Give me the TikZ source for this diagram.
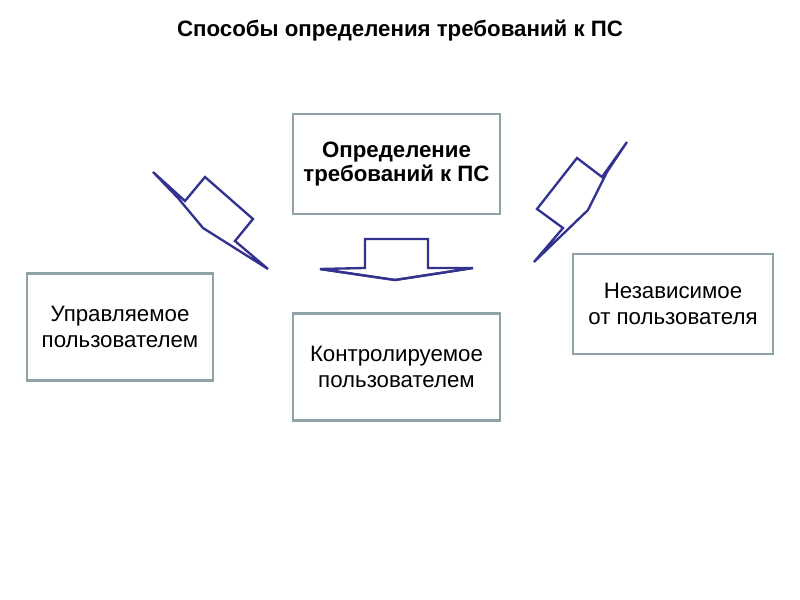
\documentclass[tikz,border=0pt]{standalone}
\usepackage{fontspec}
\setmainfont{Liberation Sans}
\definecolor{BoxGrey}{HTML}{8FA3A7}
\definecolor{ArrowBlue}{HTML}{33338F}
\usetikzlibrary{positioning}
\tikzset{
  waybox/.style={draw=BoxGrey,line width=1.8pt,fill=white,align=center,
    font=\fontsize{19}{21.5}\selectfont,inner sep=2pt},
  blockarrow/.style={draw=ArrowBlue,line width=2pt,line join=miter,fill=white}
}

\begin{document}
\begin{tikzpicture}[x=0.03cm,y=-0.03cm]
  \useasboundingbox (0,0) rectangle (800,600);

  % Title
  \node[font=\fontsize{19}{22}\selectfont\bfseries] (title) at (400,31)
    {Способы определения требований к ПС};

  % Top box
  \node[waybox,minimum width=6.21cm,minimum height=3cm,font=\fontsize{19}{21}\selectfont\bfseries]
    (define) at (396.5,164) {Определение\\требований к ПС};

  % Lower boxes
  \node[waybox,minimum width=5.58cm,minimum height=3.21cm] (managed) at (120,327)
    {Управляемое\\пользователем};
  \node[waybox,minimum width=6.21cm,minimum height=3.21cm] (controlled) at (396.5,367)
    {Контролируемое\\пользователем};
  \node[waybox,minimum width=6cm,minimum height=3cm] (indep) at (673,304)
    {Независимое\\от пользователя};

  % Left arrow
  \draw[blockarrow] (153,172) -- (185,201) -- (205,177) -- (253,219) -- (235,241)
    -- (268,269) -- (203,228) -- (178,198) -- cycle;

  % Down arrow
  \draw[blockarrow] (365,239) -- (428,239) -- (428,268) -- (473,268) -- (395,280)
    -- (320,269) -- (365,268) -- cycle;
  \draw[ArrowBlue,line width=2pt] (320,269) -- (395,280) -- (473,268);

  % Right arrow
  \draw[blockarrow] (627,142) -- (602,177) -- (577,158) -- (537,209) -- (563,228)
    -- (534,262) -- (588,210) -- (607,172) -- cycle;
\end{tikzpicture}
\end{document}
